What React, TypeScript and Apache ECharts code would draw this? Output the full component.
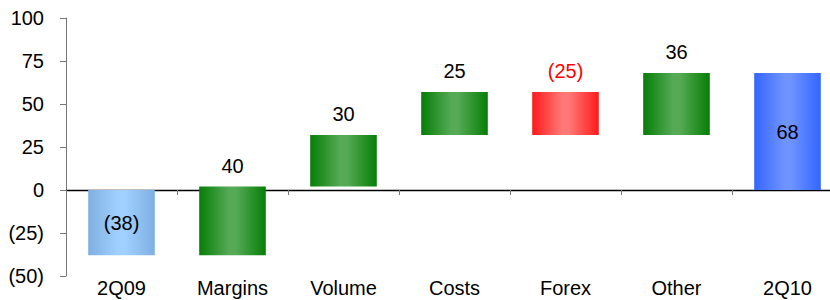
import React, { useEffect, useRef } from "react";
import * as echarts from "echarts";

const categories = ["2Q09", "Margins", "Volume", "Costs", "Forex", "Other", "2Q10"];
const deltas = [-38, 40, 30, 25, -25, 36, 68];
const kinds = ["start", "up", "up", "up", "down", "up", "total"];
const yTicks = { min: -50, max: 100, interval: 25 };

const FONT = "'Liberation Sans', Arial, sans-serif";
const FS = 20;

const grad = (edge: string, mid: string) =>
  new echarts.graphic.LinearGradient(0, 0, 1, 0, [
    { offset: 0, color: edge },
    { offset: 0.45, color: mid },
    { offset: 0.55, color: mid },
    { offset: 1, color: edge },
  ]);

const fillFor = (k: string) => {
  if (k === "start") return grad("#7fafe0", "#9fd0ff");
  if (k === "total") return grad("#3366ff", "#6f93ff");
  if (k === "down") return grad("#ff1a1a", "#ff7878");
  return grad("#067e06", "#56aa56");
};

const fmt = (v: number) => (v < 0 ? `(${-v})` : `${v}`);

export default function App() {
  const ref = useRef<HTMLDivElement>(null);
  useEffect(() => {
    document.body.style.margin = "0";
    if (!ref.current) return;
    const chart = echarts.init(ref.current, undefined, { renderer: "svg" });

    let run = 0;
    const data = deltas.map((d, i) => {
      const k = kinds[i];
      let start: number, end: number;
      if (k === "start" || k === "total") {
        start = 0;
        end = d;
      } else {
        start = run;
        end = run + d;
      }
      run = end;
      return [i, start, end, d];
    });

    chart.setOption({
      animation: false,
      grid: {
        left: 66,
        top: 18,
        height: 258,
        width: 777,
        containLabel: false,
        outerBoundsMode: "none",
      },
      xAxis: [
        {
          type: "category",
          data: categories,
          position: "bottom",
          axisLine: { onZero: true, lineStyle: { color: "#000", width: 1.3 } },
          axisTick: { show: true, length: 5, lineStyle: { color: "#777" } },
          axisLabel: { show: false },
        },
        {
          type: "category",
          data: categories,
          position: "bottom",
          axisLine: { show: false, onZero: false },
          axisTick: { show: false },
          axisLabel: { fontSize: FS, color: "#000", fontFamily: FONT, margin: 2 },
        },
      ],
      yAxis: {
        type: "value",
        min: yTicks.min,
        max: yTicks.max,
        interval: yTicks.interval,
        axisLine: { show: true, lineStyle: { color: "#777" } },
        axisTick: { show: true, length: 6, lineStyle: { color: "#777" } },
        splitLine: { show: false },
        axisLabel: {
          fontSize: FS,
          color: "#000",
          fontFamily: FONT,
          margin: 22,
          formatter: (v: number) => fmt(v),
        },
      },
      series: [
        {
          type: "custom",
          xAxisIndex: 0,
          yAxisIndex: 0,
          data,
          renderItem: (params: any, api: any) => {
            const idx = api.value(0);
            const s = api.value(1);
            const e = api.value(2);
            const d = api.value(3);
            const k = kinds[idx];
            const p0 = api.coord([idx, s]);
            const p1 = api.coord([idx, e]);
            const w = api.size([1, 0])[0] * 0.6;
            const top = Math.min(p0[1], p1[1]);
            const h = Math.abs(p0[1] - p1[1]);
            const inside = k === "start" || k === "total";
            return {
              type: "group",
              children: [
                {
                  type: "rect",
                  shape: { x: p0[0] - w / 2, y: top, width: w, height: h },
                  style: { fill: fillFor(k) },
                },
                {
                  type: "text",
                  x: p0[0],
                  y: inside ? top + h / 2 : top - 21,
                  style: {
                    text: fmt(d),
                    fill: k === "down" ? "#ff0000" : "#000",
                    fontSize: FS,
                    fontFamily: FONT,
                    align: "center",
                    verticalAlign: "middle",
                  },
                },
              ],
            };
          },
        },
      ],
    });
    return () => chart.dispose();
  }, []);
  return <div ref={ref} style={{ width: 830, height: 300 }} />;
}
